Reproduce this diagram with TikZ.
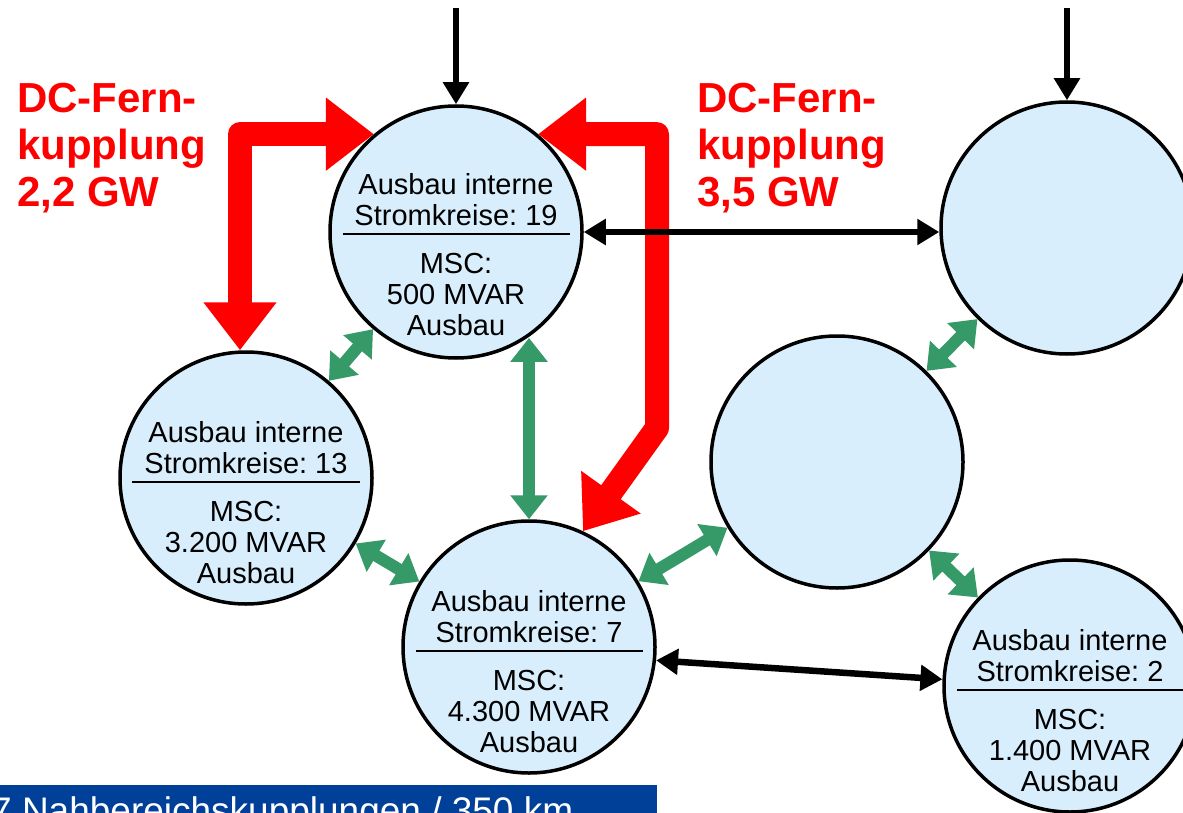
\documentclass[tikz,border=0pt]{standalone}
\usepackage{fontspec}
\setmainfont{Liberation Sans}
\usetikzlibrary{arrows.meta}
\definecolor{kreisblau}{RGB}{217,238,252}
\definecolor{nbgruen}{RGB}{54,153,104}
\definecolor{bandblau}{RGB}{0,64,153}
\frenchspacing
\tikzset{
  dcspitze/.tip={Triangle[length=48pt,width=70pt]},
  acspitze/.tip={Triangle[length=22pt,width=25pt]},
  nbspitze/.tip={Triangle[length=24pt,width=36pt]}
}
\begin{document}
\begin{tikzpicture}[x=1pt,y=-1pt,
    netz/.style={circle, draw=black, line width=3.5pt, fill=kreisblau, minimum size=252pt, inner sep=0pt},
    info/.style={align=center, inner sep=0pt, font=\fontsize{29}{31}\selectfont},
    titel/.style={align=left, inner sep=0pt, anchor=north west, text=red, font=\fontsize{42}{47}\selectfont\bfseries},
    dcpfeil/.style={red, line width=24pt, line join=round, dcspitze-dcspitze},
    acpfeil/.style={black, line width=6.5pt, -acspitze},
    nbpfeil/.style={nbgruen, line width=12pt, nbspitze-nbspitze}]
    % Frame: 1183 x 813 px, y runs downwards
    \useasboundingbox (0,0) rectangle (1183,813);
    \fill[white] (0,0) rectangle (1183,813);

    % Netzknoten
    \node[netz] (nord) at (456,232) {};
    \node[netz] (west) at (246,478) {};
    \node[netz] (sued) at (529,647) {};
    \node[netz] (nordost) at (1067,228) {};
    \node[netz] (ost) at (837,462) {};
    \node[netz] (suedost) at (1070,686) {};

    % Texte in den Knoten (Linie etwas unter der Mitte)
    \node[info] (nord-txt) at ([yshift=-23pt]nord.center)
      {Ausbau interne\\Stromkreise: 19\\[-22pt]\rule{227pt}{1.5pt}\\[8pt]MSC:\\500 MVAR\\Ausbau};
    \node[info] (west-txt) at ([yshift=-25pt]west.center)
      {Ausbau interne\\Stromkreise: 13\\[-22pt]\rule{228pt}{1.5pt}\\[8pt]MSC:\\3.200 MVAR\\Ausbau};
    \node[info] (sued-txt) at ([yshift=-25pt]sued.center)
      {Ausbau interne\\Stromkreise: 7\\[-22pt]\rule{227pt}{1.5pt}\\[8pt]MSC:\\4.300 MVAR\\Ausbau};
    \node[info] (suedost-txt) at ([yshift=-25pt]suedost.center)
      {Ausbau interne\\Stromkreise: 2\\[-22pt]\rule{227pt}{1.5pt}\\[8pt]MSC:\\1.400 MVAR\\Ausbau};

    % DC-Fernkupplungen (rot)
    \node[titel] (fern-west) at (17,83) {DC-Fern-\\kupplung\\2,2 GW};
    \node[titel] (fern-ost) at (697,83) {DC-Fern-\\kupplung\\3,5 GW};
    \coordinate (knick) at (657,428);
    \draw[dcpfeil] ([xshift=-6pt]west.north) |- (nord.130);
    \draw[dcpfeil] (nord.50) -| (knick) -- (sued.65);

    % Zulaeufe und AC-Verbindungen (schwarz)
    \coordinate (zulauf) at (0,8);
    \draw[acpfeil] (nord.north |- zulauf) -- (nord.north);
    \draw[acpfeil] (nordost.north |- zulauf) -- (nordost.north);
    \draw[acpfeil, acspitze-acspitze] (nord.east) -- (nord.east -| nordost.west);
    \draw[acpfeil, acspitze-acspitze] (sued.-6) -- (suedost.177);

    % Nahbereichskupplungen (gruen)
    \draw[nbpfeil] (nord) -- (west);
    \draw[nbpfeil] (sued.north |- nord.-56) -- (sued.north);
    \draw[nbpfeil] (west) -- (sued);
    \draw[nbpfeil] (sued) -- (ost);
    \draw[nbpfeil] (nordost) -- (ost);
    \draw[nbpfeil] (ost) -- (suedost);

    % Band unten links
    \fill[bandblau] (0,785) rectangle (657,820);
    \node[anchor=base west, inner sep=0pt, text=white, font=\fontsize{37}{44}\selectfont] (band-txt) at (-9,823)
      {7 Nahbereichskupplungen / 350 km};
  \end{tikzpicture}
\end{document}
